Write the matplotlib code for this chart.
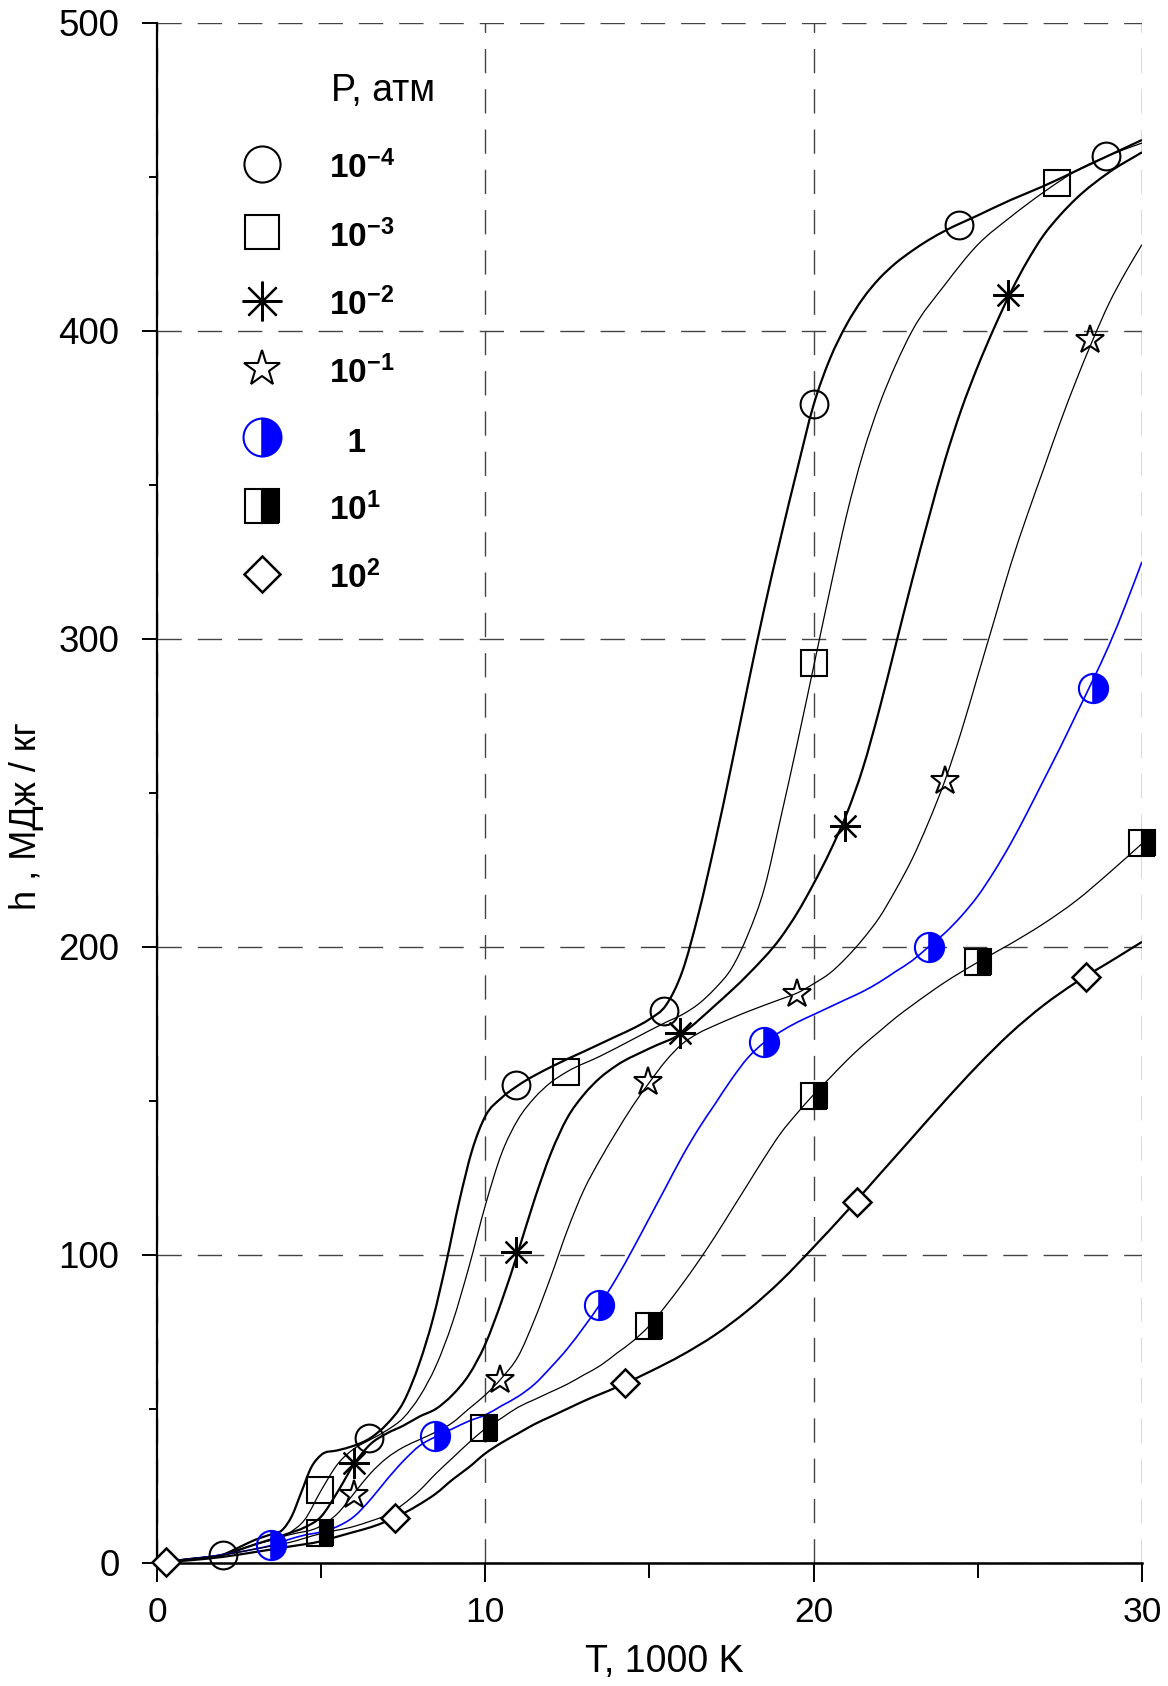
import numpy as np
import matplotlib
matplotlib.use("Agg")
import matplotlib.pyplot as plt
from matplotlib.lines import Line2D
from matplotlib.path import Path
from matplotlib.patches import PathPatch
from matplotlib.ticker import MultipleLocator

plt.rcParams['font.family'] = ['Liberation Sans', 'DejaVu Sans']
plt.rcParams['mathtext.fontset'] = 'custom'
plt.rcParams['mathtext.rm'] = 'Liberation Sans'
plt.rcParams['mathtext.bf'] = 'Liberation Sans:bold'
plt.rcParams['mathtext.it'] = 'Liberation Sans:italic'

# curves, T in 1000 K, h in MJ/kg
t_m4 = [0, 1, 2, 2.5, 3, 3.5, 3.8, 4.1, 4.4, 4.7, 5.0, 5.5, 6.0, 6.5, 7.0, 7.5, 8.0, 8.4, 8.8,
        9.2, 9.6, 10.0, 10.5, 11.0, 12.0, 13.0, 14.0, 14.5, 15.0, 15.5, 16.0, 16.5, 17.0, 17.5,
        18.0, 18.5, 19.0, 19.5, 20.0, 20.5, 21.0, 21.5, 22.0, 22.5, 23.0, 23.5, 24.0, 25.0,
        26.0, 27.0, 28.0, 29.0, 30.0]
h_m4 = [0, 1.2, 2.6, 5, 7.5, 9.3, 10.5, 15, 23, 31, 35, 36.5, 38, 40.5, 45, 52, 65, 79, 97,
        117, 134, 145, 151, 155, 161, 166, 171, 173.5, 176.5, 181, 192, 211, 234, 259,
        285, 310, 333, 355, 376, 391, 402, 410.5, 417, 422, 426, 429.5, 432.5, 437.5,
        442.5, 447, 452, 457, 462]

t_m3 = [0, 1, 2, 3, 4, 4.5, 5.0, 5.5, 6.0, 6.5, 7.0, 7.5, 8.0, 8.5, 9.0, 9.5, 10.0, 10.5, 11.0,
        11.5, 12.0, 12.5, 13.5, 14.5, 15.5, 16.0, 16.5, 17.0, 17.5, 18.0, 18.5, 19.0, 19.5,
        20.0, 20.5, 21.0, 21.5, 22.0, 22.5, 23.0, 24.0, 25.0, 26.0, 27.0, 28.0, 29.0, 30.0]
h_m3 = [0, 1.2, 2.6, 6, 9.5, 14, 23.5, 32, 37, 40, 43, 47, 54, 64, 78, 96, 116, 133, 144,
        151, 156, 159.5, 164.5, 170, 175.5, 178, 181.5, 186.5, 193, 204, 219, 242, 266,
        291, 316, 340, 360, 376, 389, 400, 415, 428, 437, 445, 452, 457, 461]

t_m2 = [0, 1, 2, 3, 4, 4.5, 5, 5.5, 6, 6.5, 7, 7.5, 8, 8.5, 9, 9.5, 10, 10.5, 11, 11.5, 12,
        12.5, 13, 13.5, 14, 15, 16, 17, 18, 19, 19.5, 20, 20.5, 21, 21.5, 22, 22.5, 23, 23.5,
        24, 24.5, 25, 25.5, 26, 26.5, 27, 27.5, 28, 29, 30]
h_m2 = [0, 1.2, 2.6, 6, 9.5, 11.5, 15, 23, 32, 38.5, 42, 44.5, 47.5, 50, 54.5, 61, 71, 85, 101,
        118, 133, 144.5, 152, 157.5, 161.5, 167, 172, 181, 191, 203, 211, 220.5, 231, 243,
        258, 277, 298, 319, 339, 358, 374.5, 388.5, 401, 412.5, 422.5, 431, 437.5, 443,
        451.5, 458]

t_m1 = [0, 1, 2, 3, 4, 5, 5.5, 6, 6.5, 7, 7.5, 8, 8.5, 9, 9.5, 10, 10.5, 11, 11.5, 12, 12.5,
        13, 13.5, 14, 14.5, 15, 15.5, 16, 16.5, 17, 18, 19, 19.5, 20, 20.5, 21, 21.5, 22, 22.5,
        23, 23.5, 24, 24.5, 25, 25.5, 26, 26.5, 27, 27.5, 28, 28.5, 29, 29.5, 30]
h_m1 = [0, 1.2, 2.6, 6, 9, 12, 16, 22.5, 29, 34, 37.5, 40, 42.5, 45.5, 50, 54.5, 60, 67, 79,
        93, 108, 121, 131, 140, 148.5, 156, 163, 168.5, 172, 174.5, 179, 183, 185, 188,
        191.5, 196.5, 202.5, 209.5, 218.5, 228.5, 240.5, 254, 270, 288, 306, 324, 340, 355,
        370, 384, 397, 409, 419, 428]

t_p1 = [0, 1, 2, 3, 3.5, 4, 4.5, 5, 5.5, 6, 6.5, 7, 7.5, 8, 8.5, 9, 9.5, 10, 10.5, 11, 11.5,
        12, 12.5, 13, 13.5, 14, 14.5, 15, 15.5, 16, 16.5, 17, 17.5, 18, 18.5, 19, 19.5, 20,
        20.5, 21, 21.5, 22, 22.5, 23, 23.5, 24, 24.5, 25, 25.5, 26, 26.5, 27, 27.5, 28, 28.5,
        29, 29.5, 30]
h_p1 = [0, 1.2, 2.6, 4.5, 5.7, 7.5, 9, 10, 11.8, 15, 20.5, 27, 33, 38, 41, 43.5, 46, 48, 51,
        54, 58, 63.5, 69.5, 76.5, 84, 92.5, 102, 112, 122, 132, 141, 149, 157, 164, 169,
        172.5, 175.5, 178, 180.5, 183, 185.5, 188.5, 192, 195.5, 200, 204.5, 210, 216.5,
        224.5, 233.5, 243.5, 254, 264.5, 275.5, 286.5, 298, 311, 325]

t_p10 = [0, 1, 2, 3, 4, 5, 6, 6.5, 7, 7.5, 8, 8.5, 9, 9.5, 10, 10.5, 11, 11.5, 12, 12.5, 13,
         13.5, 14, 14.5, 15, 15.5, 16, 16.5, 17, 17.5, 18, 18.5, 19, 19.5, 20, 20.5, 21, 21.5,
         22, 22.5, 23, 24, 25, 26, 27, 28, 29, 30]
h_p10 = [0, 1.2, 2.5, 4.5, 6.5, 9.5, 11.8, 13.5, 15.5, 19, 23.5, 29, 34, 39, 43.5, 47, 50.5,
         53, 55.5, 58, 61, 64, 68, 72, 77, 83.5, 90.5, 98, 106, 114.5, 123, 131.5, 139.5,
         146, 152, 157.5, 163, 168, 172.5, 177, 181, 188.5, 195, 201, 207.5, 215, 224, 233.5]

t_p100 = [0, 1, 2, 3, 4, 5, 5.5, 6, 6.5, 7, 7.5, 8, 8.5, 9, 9.5, 10, 10.5, 11, 11.5, 12,
          12.5, 13, 14, 15, 16, 17, 18, 19, 20, 21, 22, 23, 24, 25, 26, 27, 28, 29, 30]
h_p100 = [0, 0.8, 1.9, 3.5, 5.2, 7, 8.5, 10, 11.5, 13.5, 16, 19, 22.5, 27, 31, 35.5, 39, 42,
          45, 47.5, 50, 52.5, 57, 62, 67.5, 74, 82, 91.5, 102.5, 114, 126, 138, 150, 161.5,
          172, 181, 188.5, 195, 201.6]

# marker points
mt_m4 = [2.0, 6.47, 10.95, 15.45, 20.0, 24.42, 28.9]
mh_m4 = [2.5, 40.6, 155.1, 179.3, 376.2, 434.4, 456.8]
mt_m3 = [4.97, 12.45, 20.0, 27.41]
mh_m3 = [23.6, 159.2, 292, 448]
mt_m2 = [5.99, 10.95, 15.92, 20.95, 25.92]
mh_m2 = [32.3, 101, 172, 239.3, 411.6]
mt_m1 = [5.99, 10.46, 14.95, 19.5, 24.0, 28.42]
mh_m1 = [22, 59.3, 156.2, 184.6, 253.7, 397]
mt_p1 = [3.48, 8.48, 13.45, 18.5, 23.51, 28.5]
mh_p1 = [5.7, 41.1, 83.7, 169.2, 200.1, 284.2]
mt_p10 = [4.97, 9.96, 14.99, 20.02, 25.0, 30.0]
mh_p10 = [9.5, 43.9, 76.8, 151.4, 195.1, 233.6]
mt_p100 = [0.28, 7.26, 14.25, 21.33, 28.31]
mh_p100 = [0.3, 14.4, 58.5, 117.3, 190.3]

labels = [r'$\mathbf{10^{-4}}$', r'$\mathbf{10^{-3}}$', r'$\mathbf{10^{-2}}$',
          r'$\mathbf{10^{-1}}$', '  1', r'$\mathbf{10^{1}}$', r'$\mathbf{10^{2}}$']

BLUE = '#0000ff'
styles = [
    dict(marker='o', ms=20, mfc='none', mec='k', mew=1.5),
    dict(marker='s', ms=19, mfc='none', mec='k', mew=1.5),
    dict(marker=(8, 2, 0), ms=22, mec='k', mew=1.6),
    dict(marker='*', ms=21, mfc='none', mec='k', mew=1.5),
    dict(marker='o', ms=21, fillstyle='right', mfc=BLUE, mfcalt='none', mec=BLUE, mew=1.5),
    dict(marker='s', ms=19, fillstyle='right', mfc='k', mfcalt='none', mec='k', mew=1.5),
    dict(marker='D', ms=14, mfc='white', mec='k', mew=1.8),
]
curves = [(t_m4, h_m4, 'k', 1.6), (t_m3, h_m3, 'k', 0.9), (t_m2, h_m2, 'k', 1.6),
          (t_m1, h_m1, 'k', 0.9), (t_p1, h_p1, BLUE, 1.2), (t_p10, h_p10, 'k', 0.9),
          (t_p100, h_p100, 'k', 1.6)]
marks = [(mt_m4, mh_m4), (mt_m3, mh_m3), (mt_m2, mh_m2), (mt_m1, mh_m1),
         (mt_p1, mh_p1), (mt_p10, mh_p10), (mt_p100, mh_p100)]


def smooth_path(t, h):
    # cubic Hermite segments through the read points, drawn as Bezier curves
    x = np.asarray(t, float)
    y = np.asarray(h, float)
    dx = np.diff(x)
    d = np.diff(y) / dx
    m = np.empty_like(y)
    m[0], m[-1] = d[0], d[-1]
    m[1:-1] = (d[:-1] * dx[1:] + d[1:] * dx[:-1]) / (dx[:-1] + dx[1:])
    verts = [(x[0], y[0])]
    codes = [Path.MOVETO]
    for i in range(len(x) - 1):
        s = dx[i] / 3.0
        verts += [(x[i] + s, y[i] + m[i] * s), (x[i + 1] - s, y[i + 1] - m[i + 1] * s),
                  (x[i + 1], y[i + 1])]
        codes += [Path.CURVE4] * 3
    return Path(verts, codes)


fig = plt.figure(figsize=(11.68, 16.86), dpi=100)
ax = fig.add_axes([0.1344, 0.0731, 0.8433, 0.9133])

for (t, h, c, lw) in curves:
    ax.add_patch(PathPatch(smooth_path(t, h), fc='none', ec=c, lw=lw, zorder=3))
for (mt, mh), st in zip(marks, styles):
    ax.plot(mt, mh, ls='none', clip_on=False, zorder=4, **st)

ax.set_xlim(0, 30)
ax.set_ylim(0, 500)
ax.xaxis.set_major_locator(MultipleLocator(10))
ax.xaxis.set_minor_locator(MultipleLocator(5))
ax.yaxis.set_major_locator(MultipleLocator(100))
ax.yaxis.set_minor_locator(MultipleLocator(50))
ax.grid(True, which='major', ls=(0, (17.5, 11.5)), color='#444444', lw=1.0, zorder=1)

for s in ['top', 'right']:
    ax.spines[s].set_visible(False)
ax.spines['left'].set_linewidth(1.6)
ax.spines['bottom'].set_linewidth(1.8)
ax.tick_params(axis='x', which='major', length=14, width=1.4, pad=10, labelsize=25.5)
ax.tick_params(axis='x', which='minor', length=11, width=1.4)
ax.tick_params(axis='y', which='major', length=11, width=1.4, pad=16, labelsize=26.5)
ax.tick_params(axis='y', which='minor', length=6, width=1.4)

ax.set_xlabel('T, 1000 K', fontsize=27)
ax.xaxis.set_label_coords(0.515, -0.053)
ax.set_ylabel('h , МДж / кг', fontsize=26)
ax.yaxis.set_label_coords(-0.115, 0.485)

handles = [Line2D([], [], ls='none', **st) for st in styles]
ax.legend(handles, labels, loc='upper left', bbox_to_anchor=(0.09, 0.918), frameon=False,
          prop={'weight': 'bold', 'size': 24}, markerscale=1.3, handlelength=1.0,
          handleheight=1.3, handletextpad=1.5, labelspacing=0.96, borderpad=0,
          borderaxespad=0)
ax.text(0.1766, 0.956, 'P, атм', transform=ax.transAxes, fontsize=27, va='center', ha='left')

fig.savefig('out.png', dpi=100)
